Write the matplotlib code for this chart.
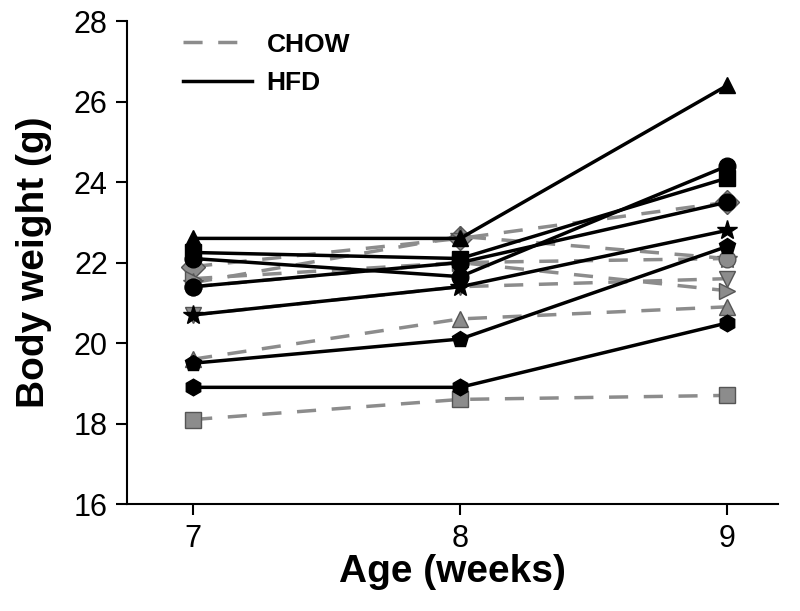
import matplotlib
matplotlib.use("Agg")
import matplotlib.pyplot as plt
from matplotlib.lines import Line2D

plt.rcParams['font.family'] = ['Liberation Sans', 'DejaVu Sans']

weeks = [7, 8, 9]

chow_markers = ['D', '*', '>', 'v', 'o', '^', 's']
chow_values = [
    [21.9, 22.6, 23.5],
    [21.5, 22.65, 22.1],
    [21.6, 22.0, 21.3],
    [20.7, 21.4, 21.6],
    [21.4, 22.0, 22.1],
    [19.6, 20.6, 20.9],
    [18.1, 18.6, 18.7],
]

hfd_markers = ['^', 'o', 's', 'o', '*', 'p', 'h']
hfd_values = [
    [22.6, 22.6, 26.4],
    [22.1, 21.65, 24.4],
    [22.25, 22.1, 24.1],
    [21.4, 22.0, 23.5],
    [20.7, 21.4, 22.8],
    [19.5, 20.1, 22.4],
    [18.9, 18.9, 20.5],
]

y_ticks = [16, 18, 20, 22, 24, 26, 28]
x_ticks = [7, 8, 9]

fig = plt.figure(figsize=(8, 6.11), dpi=100)
ax = fig.add_axes([0.159, 0.175, 0.8135, 0.7906])

gray = '#8c8c8c'
dash = (0, (5.5, 4.5))
for m, vals in zip(chow_markers, chow_values):
    ax.plot(weeks, vals, linestyle=dash, color=gray, linewidth=2.5,
            marker=m, markersize=12 if m != '*' else 15, markerfacecolor=gray,
            markeredgecolor='#555555', markeredgewidth=1.0, zorder=2)

for m, vals in zip(hfd_markers, hfd_values):
    ax.plot(weeks, vals, linestyle='-', color='black', linewidth=2.5,
            marker=m, markersize=12 if m != '*' else 15, markerfacecolor='black',
            markeredgecolor='black', zorder=3)

ax.set_xlim(6.753, 9.19)
ax.set_ylim(16, 28)
ax.set_xticks(x_ticks)
ax.set_yticks(y_ticks)
ax.tick_params(axis='both', labelsize=22, width=1.5, length=8, direction='out', pad=6)
for s in ['top', 'right']:
    ax.spines[s].set_visible(False)
for s in ['left', 'bottom']:
    ax.spines[s].set_linewidth(1.5)

ax.set_xlabel('Age (weeks)', fontsize=28, fontweight='bold', labelpad=0)
ax.set_ylabel('Body weight (g)', fontsize=28, fontweight='bold', labelpad=16)

handles = [
    Line2D([0], [0], color=gray, linestyle=dash, linewidth=2.5),
    Line2D([0], [0], color='black', linestyle='-', linewidth=2.5),
]
ax.legend(handles, ['CHOW', 'HFD'], loc='upper left', bbox_to_anchor=(0.05, 1.025),
          frameon=False, prop={'weight': 'bold', 'size': 19}, handlelength=2.6,
          handletextpad=0.55, labelspacing=0.55)

fig.savefig('out.png', dpi=100)
